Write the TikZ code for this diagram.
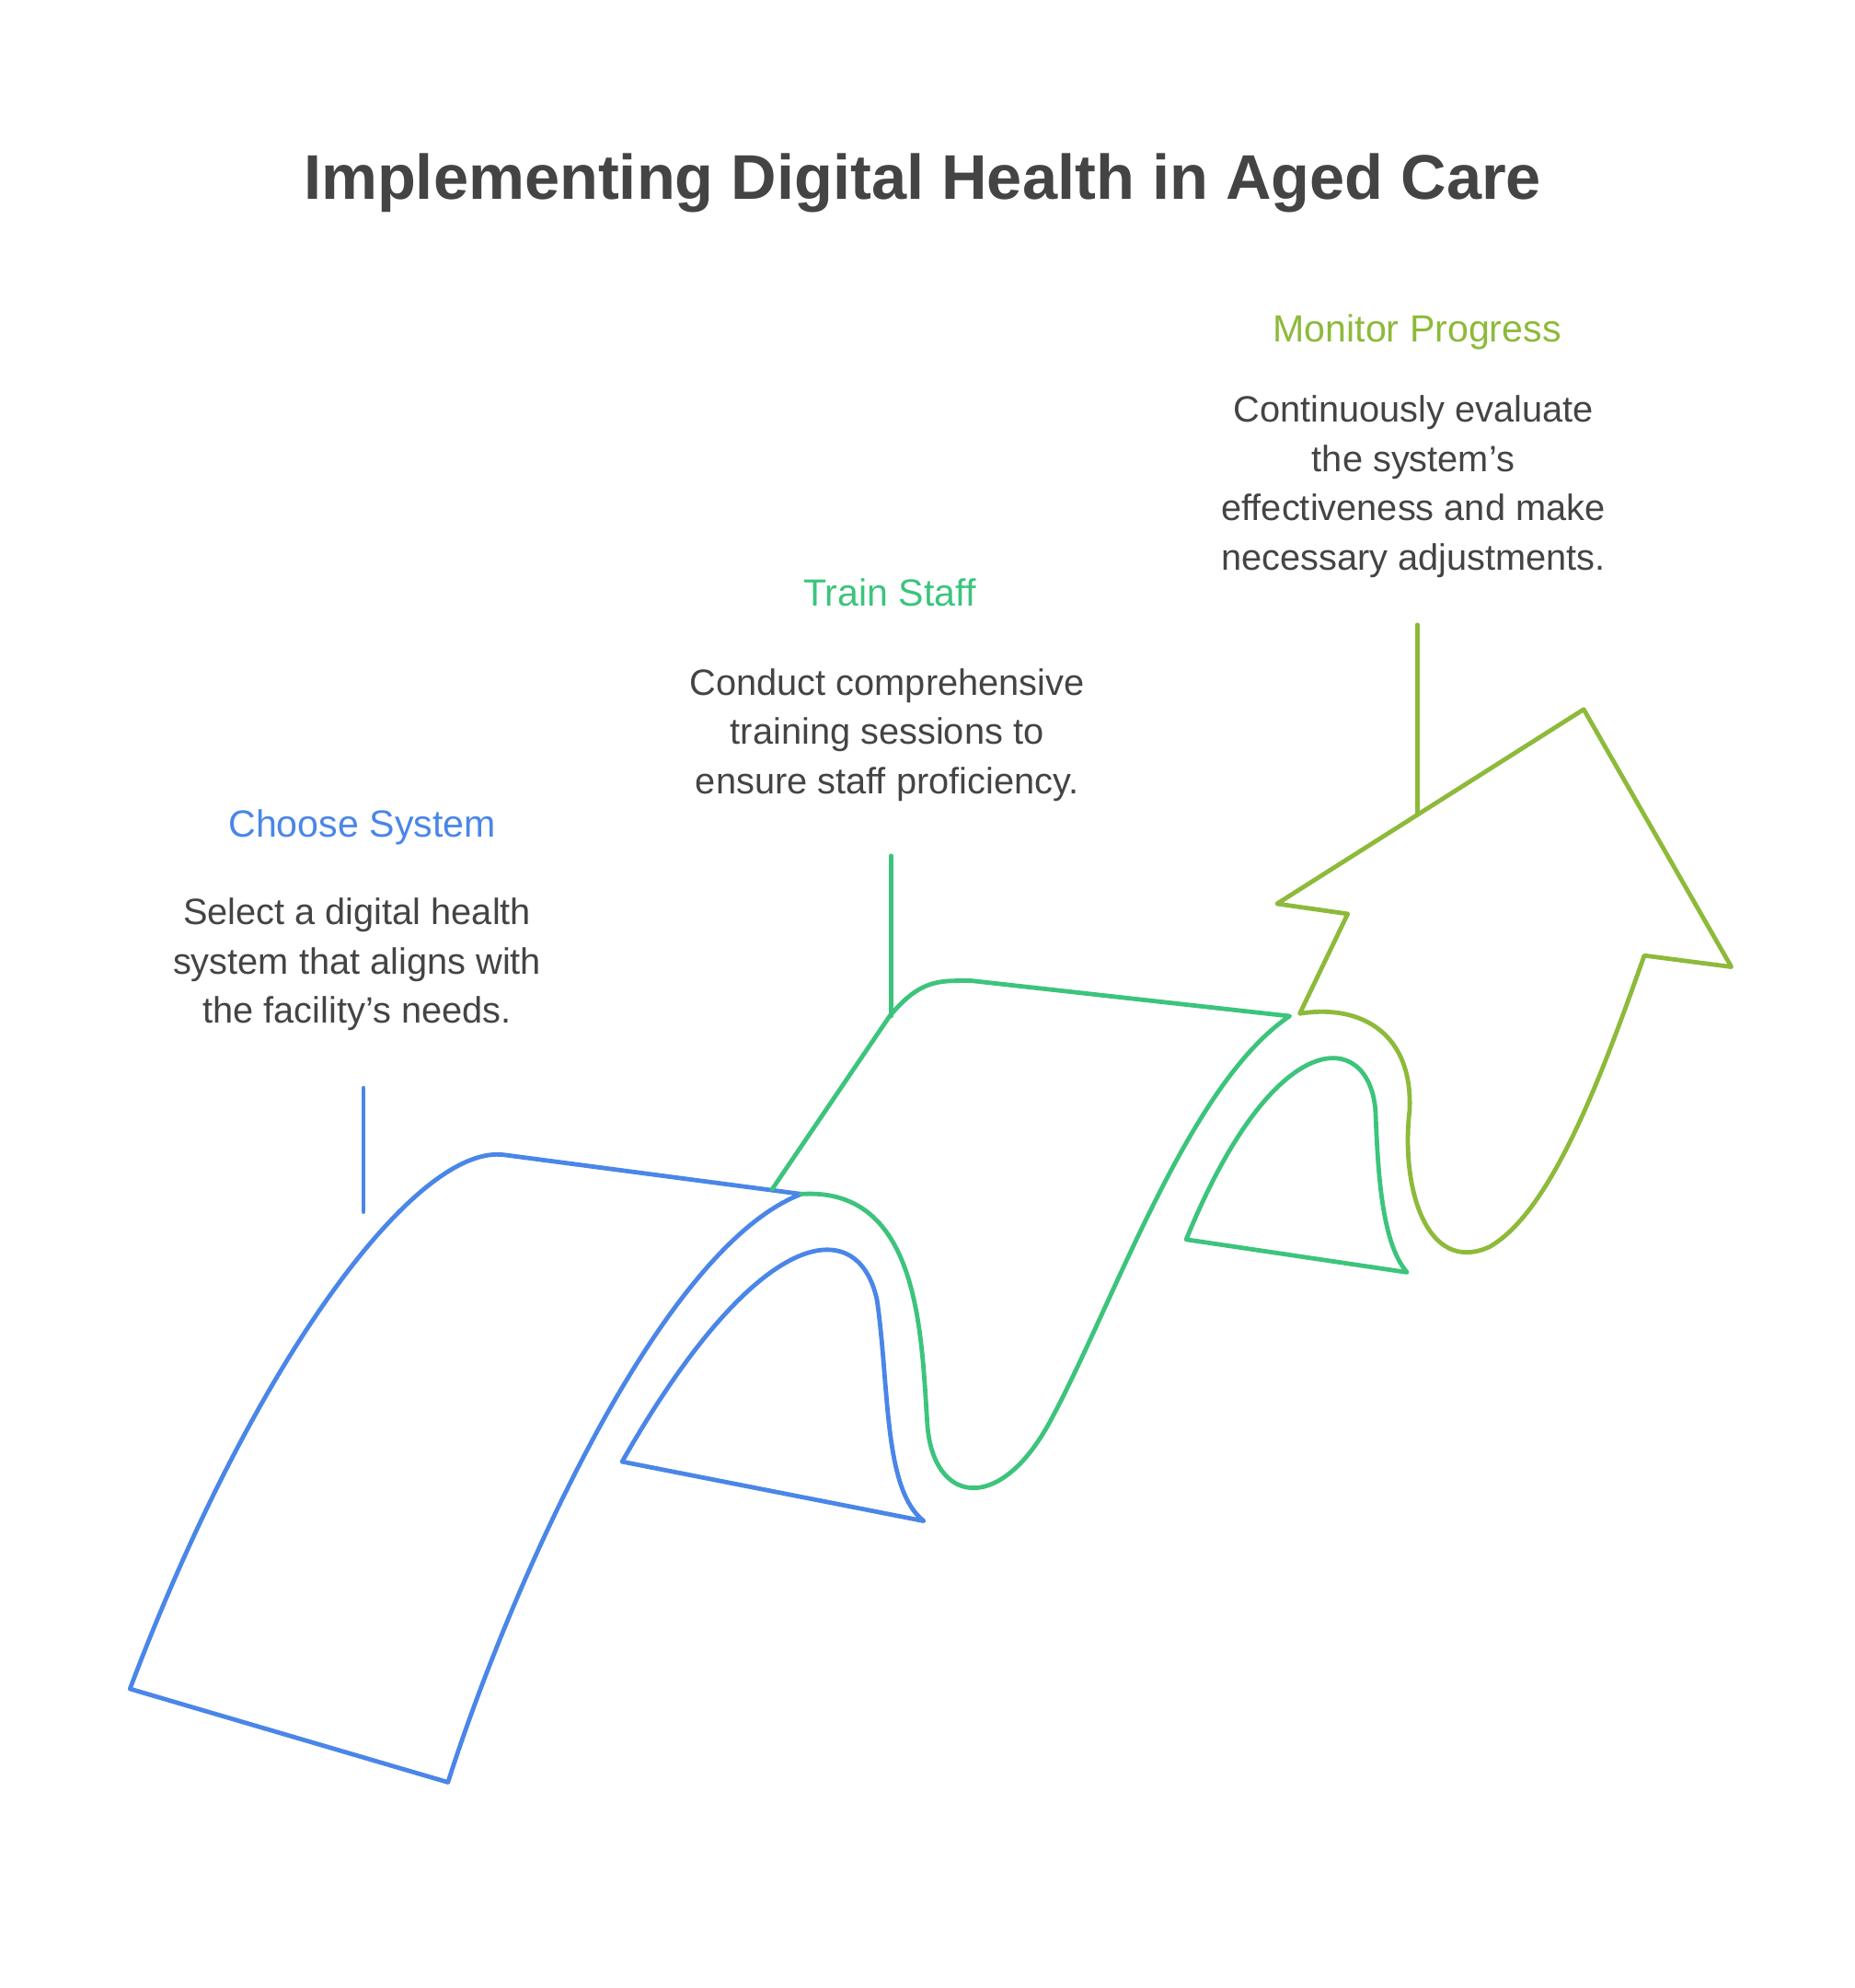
\documentclass[tikz,border=0pt]{standalone}
\usepackage{fontspec}
\setmainfont{Liberation Sans}
\usetikzlibrary{positioning}
\definecolor{cblue}{HTML}{4A86E8}
\definecolor{cgreen}{HTML}{3CC47C}
\definecolor{colive}{HTML}{8DBA3A}
\definecolor{ctext}{HTML}{444444}
\begin{document}
\begin{tikzpicture}[x=1pt,y=-1pt,
    ribbon/.style={line width=3.5pt, line join=round, line cap=round},
    head/.style={font=\fontsize{30}{39}\selectfont, anchor=base},
    body/.style={font=\fontsize{29}{39}\selectfont, text=ctext, align=center, anchor=north}]
  \useasboundingbox (0,0) rectangle (1470,1575);

  \node[font=\fontsize{50}{60}\selectfont\bfseries, text=ctext] (title) at (731,145) {Implementing Digital Health in Aged Care};

  % labels
  \node[head, text=cblue] (h1) at (287,663) {Choose System};
  \node[body] (b1) at (283,708) {Select a digital health\\system that aligns with\\the facility's needs.};
  \node[head, text=cgreen] (h2) at (705,480) {Train Staff};
  \node[body] (b2) at (703,526) {Conduct comprehensive\\training sessions to\\ensure staff proficiency.};
  \node[head, text=colive] (h3) at (1123,271) {Monitor Progress};
  \node[body] (b3) at (1120,310) {Continuously evaluate\\the system's\\effectiveness and make\\necessary adjustments.};

  % step 1
  \draw[ribbon, cblue] (103,1338) -- (355,1412)
    .. controls (400,1270) and (520,990) .. (635,946)
    -- (400,915) .. controls (330,905) and (200,1080) .. cycle;
  \draw[ribbon, cblue] (493,1158) -- (732,1205)
    .. controls (700,1180) and (705,1100) .. (695,1030)
    .. controls (680,960) and (600,970) .. cycle;
  % step 2
  \draw[ribbon, cgreen] (612,942) -- (705,805)
    .. controls (730,775) and (745,777) .. (770,777) -- (1022,805)
    .. controls (940,860) and (880,1040) .. (830,1130)
    .. controls (790,1200) and (740,1190) .. (735,1130)
    .. controls (730,1060) and (730,940) .. (635,946);
  \draw[ribbon, cgreen] (940,982) -- (1115,1008)
    .. controls (1095,985) and (1092,930) .. (1090,880)
    .. controls (1085,815) and (1010,810) .. cycle;
  % step 3
  \draw[ribbon, colive] (1030,803) -- (1068,724) -- (1012,716) -- (1255,562)
    -- (1372,766) -- (1303,757)
    .. controls (1270,850) and (1230,960) .. (1180,988)
    .. controls (1130,1010) and (1110,940) .. (1117,880)
    .. controls (1120,820) and (1080,795) .. cycle;

  % connectors
  \coordinate (p1) at (288,960);
  \coordinate (p2) at (706,805);
  \coordinate (p3) at (1123,645);
  \coordinate (t1) at (288,862);
  \coordinate (t2) at (706,678);
  \coordinate (t3) at (1123,495);
  \draw[ribbon, cblue] (t1) -- (p1);
  \draw[ribbon, cgreen] (t2) -- (p2);
  \draw[ribbon, colive] (t3) -- (p3);
\end{tikzpicture}
\end{document}
